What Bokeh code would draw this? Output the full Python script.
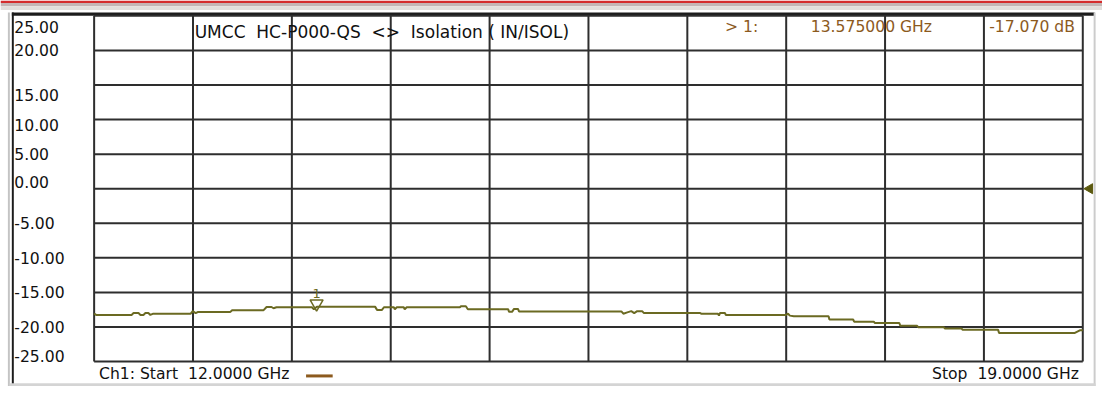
import numpy as np
from bokeh.plotting import figure
from bokeh.models import Range1d
from bokeh.core.properties import value
from bokeh.embed import file_html
from bokeh.resources import INLINE

# ---------------- data ----------------
freq_ghz = [12.000, 12.014, 12.265, 12.279, 12.314, 12.328, 12.349, 12.363, 12.384, 12.398,
            12.419, 12.684, 12.698, 12.719, 12.733, 12.963, 12.977, 13.200, 13.221, 13.256,
            13.270, 13.291, 13.542, 13.556, 13.577, 13.605, 13.989, 14.003, 14.038, 14.052,
            14.122, 14.129, 14.143, 14.192, 14.199, 14.213, 14.590, 14.597, 14.632, 14.646,
            14.931, 14.938, 14.959, 14.973, 15.001, 15.008, 15.733, 15.747, 15.775, 15.803,
            15.824, 15.845, 15.880, 15.893, 16.291, 16.298, 16.417, 16.424, 16.431, 16.466,
            16.473, 16.899, 16.913, 16.926, 16.954, 17.200, 17.206, 17.374, 17.381, 17.520,
            17.527, 17.701, 17.708, 17.827, 17.834, 18.016, 18.023, 18.141, 18.148, 18.400,
            18.407, 18.944, 18.979, 19.000]
isolation_db = [-18.08, -18.26, -18.26, -17.99, -17.99, -18.26, -18.26, -17.99, -17.99, -18.26,
                -18.08, -18.08, -17.71, -18.00, -17.85, -17.85, -17.57, -17.57, -17.11, -17.11,
                -17.29, -17.15, -17.15, -17.43, -17.07, -17.06, -17.06, -17.53, -17.53, -17.15,
                -17.15, -17.43, -17.15, -17.15, -17.43, -17.15, -17.15, -17.01, -17.01, -17.43,
                -17.43, -17.81, -17.81, -17.39, -17.39, -17.75, -17.75, -18.08, -17.89, -17.71,
                -17.99, -17.71, -17.71, -17.99, -17.99, -18.08, -18.08, -18.36, -17.99, -17.99,
                -18.26, -18.26, -18.08, -18.36, -18.44, -18.44, -18.92, -18.92, -19.24, -19.24,
                -19.42, -19.42, -19.83, -19.83, -20.03, -20.03, -20.21, -20.21, -20.39, -20.39,
                -20.86, -20.86, -20.49, -20.49]

marker_freq_ghz = [13.575]
marker_db = [-17.07]
marker_ids = ["1"]
ref_level_db = [0.0]

start_ghz = 12.0
stop_ghz = 19.0
x_divisions = 10
y_ticks = [25, 20, 15, 10, 5, 0, -5, -10, -15, -20, -25]
y_tick_labels = ["25.00", "20.00", "15.00", "10.00", "5.00", "0.00",
                 "-5.00", "-10.00", "-15.00", "-20.00", "-25.00"]

NB = "\u00a0"
title_text = f"UMCC {NB}HC-P000-QS {NB}<> {NB}Isolation ( IN/ISOL)"
marker_readout = ["> 1:", "13.575000 GHz", "-17.070 dB"]
start_text = f"Ch1: Start {NB}12.0000 GHz"
stop_text = f"Stop {NB}19.0000 GHz"

# ---------------- layout ----------------
W, H = 1102, 386                 # canvas
REF_W, REF_H = 1118, 402         # layout below is given in screen units of this size
sx, sy = W / REF_W, H / REF_H

GL, GR, GT, GB = 95 * sx, 1098 * sx, 16 * sy, 376 * sy   # graticule box
y_top, y_bot = max(y_ticks), min(y_ticks)
ppx = (GR - GL) / (stop_ghz - start_ghz)
ppy = (GB - GT) / (y_top - y_bot)
xr = Range1d(start_ghz - GL / ppx, stop_ghz + (W - GR) / ppx)
yr = Range1d(y_bot - (H - GB) / ppy, y_top + GT / ppy)


def X(px):
    """screen x in reference units -> data x"""
    return xr.start + px * sx / ppx


def Y(py):
    """screen y in reference units -> data y"""
    return yr.end - py * sy / ppy


GRID = "#2e2e2e"
TRACE = "#6b6a22"
BROWN = "#8c5a1e"
TXT = "#111111"
FONT = value("DejaVu Sans")
FS = "15.6px"

p = figure(width=W, height=H, x_range=xr, y_range=yr, output_backend="svg",
           toolbar_location=None, x_axis_location=None, y_axis_location=None,
           min_border=0, outline_line_color=None,
           background_fill_color="white", border_fill_color="white")
p.grid.visible = False


def box(l, r, t, b, color):
    p.quad(left=[X(l)], right=[X(r)], top=[Y(t)], bottom=[Y(b)], fill_color=color, line_color=None)


# window decoration
box(0, REF_W, 0, 2.6, "#d42c2c")
box(0, REF_W, 2.6, 6, "#c4b6b5")
box(0, REF_W, 6, 10, "#e2dedb")
box(11.5, 1110, 12.5, 16, "#1c1c1c")
box(11.5, 13.5, 12.5, REF_H, "#1c1c1c")
box(7.5, 9.5, 12.5, REF_H, "#c4c4c4")
box(1109, 1111, 12.5, REF_H, "#cccccc")
box(9.5, 1111, 398.5, REF_H, "#d4d4d4")

# graticule
x_ticks = np.linspace(start_ghz, stop_ghz, x_divisions + 1)
p.segment(x0=x_ticks, x1=x_ticks, y0=[y_bot] * len(x_ticks), y1=[y_top] * len(x_ticks),
          line_color=GRID, line_width=2)
p.segment(x0=[start_ghz] * len(y_ticks), x1=[stop_ghz] * len(y_ticks), y0=y_ticks, y1=y_ticks,
          line_color=GRID, line_width=2)

# trace
p.line(freq_ghz, isolation_db, line_color=TRACE, line_width=2)

# reference level arrow on the right edge
p.scatter(x=[X(1105)] * len(ref_level_db), y=ref_level_db, marker="triangle",
          angle=np.pi / 2, size=10, fill_color="#5c5a10", line_color="#5c5a10")

# marker 1
p.scatter(x=marker_freq_ghz, y=[m + 3 / ppy for m in marker_db], marker="inverted_triangle",
          size=13, fill_color=None, line_color=TRACE, line_width=1.5)
p.text(x=marker_freq_ghz, y=[m + 9 / ppy for m in marker_db], text=marker_ids,
       text_font=FONT, text_font_size="13px", text_color=TRACE,
       text_align="center", text_baseline="bottom")

# y labels (left aligned in the label column)
nudge = {25: 12, 15: 10, 10: 6, 0: -7, -25: -6}     # reference px, downward
p.text(x=[X(14)] * len(y_ticks), y=[t - nudge.get(t, 0) * sy / ppy for t in y_ticks],
       text=y_tick_labels, text_font=FONT, text_font_size=FS, text_color=TXT,
       text_align="left", text_baseline="middle")

# title and marker readout
p.text(x=[X(197)], y=[Y(33)], text=[title_text], text_font=FONT, text_font_size="17px",
       text_color=TXT, text_align="left", text_baseline="middle")
p.text(x=[X(735), X(822), X(1003)], y=[Y(28)] * 3, text=marker_readout, text_font=FONT,
       text_font_size=FS, text_color=BROWN, text_align="left", text_baseline="middle")

# start / stop annotation
p.text(x=[X(100)], y=[Y(389)], text=[start_text], text_font=FONT, text_font_size=FS,
       text_color=TXT, text_align="left", text_baseline="middle")
p.segment(x0=[X(310)], x1=[X(337)], y0=[Y(391)], y1=[Y(391)], line_color=BROWN, line_width=3)
p.text(x=[X(1094)], y=[Y(389)], text=[stop_text], text_font=FONT, text_font_size=FS,
       text_color=TXT, text_align="right", text_baseline="middle")

open("out.html", "w").write(file_html(p, INLINE))
